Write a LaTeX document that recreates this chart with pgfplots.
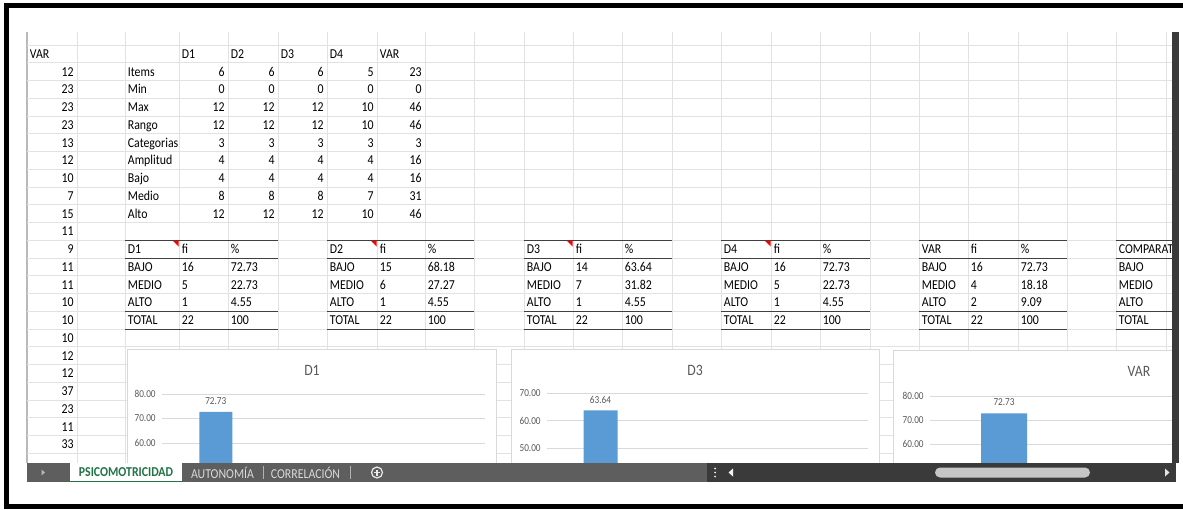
\documentclass[border=0pt]{standalone}
\usepackage{fontspec}
\setmainfont{Carlito}
\usepackage{graphicx}
\usepackage{pgfplots}
\pgfplotsset{compat=1.18}
\definecolor{gridc}{HTML}{E2E2E2}
\definecolor{bordc}{HTML}{D9D9D9}
\definecolor{cgrid}{HTML}{D9D9D9}
\definecolor{barc}{HTML}{5B9BD5}
\definecolor{txtc}{HTML}{595959}
\definecolor{tabg}{HTML}{5E5E5E}
\definecolor{tabd}{HTML}{3A3A3A}
\definecolor{xlgreen}{HTML}{217346}
\definecolor{tline}{HTML}{404040}
\newcommand\T[1]{\scalebox{0.87}[1]{#1}}
\newcommand\cf{\fontsize{6.8}{7}\selectfont}
\newcommand\tf{\fontsize{5.3}{6}\selectfont}
\newcommand\titf{\fontsize{7.9}{9}\selectfont}
\newcommand\cellL[3]{\node[anchor=base west,inner sep=0pt,font=\cf] at ({#1+2.5},{58.3+17.75*(#2)}) {\T{#3}};}
\newcommand\cellR[3]{\node[anchor=base east,inner sep=0pt,font=\cf] at ({#1-3},{58.3+17.75*(#2)}) {\T{#3}};}
\pgfplotsset{xlchart/.style={
  scale only axis, anchor=north west, ybar, bar shift=0pt,
  xmin=-0.5, xmax=2.5, xtick={0,1,2}, xticklabels={BAJO,MEDIO,ALTO},
  axis line style={draw=none}, major tick length=0pt,
  ymajorgrids, grid style={cgrid, line width=0.5pt},
  yticklabel={\T{\pgfmathprintnumber[fixed,fixed zerofill,precision=2,assume math mode=true]{\tick}}},
  ticklabel style={font=\tf, text=txtc},
  yticklabel style={inner sep=0pt, xshift=-3pt},
  nodes near coords={\T{\pgfmathprintnumber[fixed,fixed zerofill,precision=2,assume math mode=true]{\pgfplotspointmeta}}},
  nodes near coords style={font=\tf, text=txtc, inner sep=0pt, anchor=south, yshift=3.5pt},
}}
\begin{document}
\begin{tikzpicture}[x=0.5pt,y=-0.5pt]
\path[use as bounding box] (0,0) rectangle (1183,509);
\clip (0,0) rectangle (1183,509);
\fill[white] (0,0) rectangle (1183,509);
\coordinate (pD1) at (162,394);
\coordinate (pD3) at (547,393);
\coordinate (pVAR) at (930,396);
% sheet grid
\foreach \gx in {77,125,179,228,278,327,377,425,474,524,573,622,672,721,771,820,870,919,968,1018,1067,1116,1166}
  \draw[gridc, line width=0.5pt] (\gx,32) -- (\gx,463);
\draw[gray!55, line width=0.6pt] (27,32) -- (27,463);
\foreach \k in {0,...,23}
  \draw[gridc, line width=0.5pt] (27,{45.1+17.75*\k}) -- (1172,{45.1+17.75*\k});
% column A
\cellL{27}{0}{VAR}
\foreach \v [count=\r] in {12,23,23,23,13,12,10,7,15,11,9,11,11,10,10,10,12,12,37,23,11,33}
  {\cellR{77}{\r}{\v}}
% top block
\cellL{179}{0}{D1} \cellL{228}{0}{D2} \cellL{278}{0}{D3} \cellL{327}{0}{D4} \cellL{377}{0}{VAR}
\foreach \lab/\va/\vb/\vc/\vd/\ve [count=\r] in {Items/6/6/6/5/23, Min/0/0/0/0/0, Max/12/12/12/10/46, Rango/12/12/12/10/46, Categorias/3/3/3/3/3, Amplitud/4/4/4/4/16, Bajo/4/4/4/4/16, Medio/8/8/8/7/31, Alto/12/12/12/10/46}{
  \cellL{125}{\r}{\lab} \cellR{228}{\r}{\va} \cellR{278}{\r}{\vb} \cellR{327}{\r}{\vc} \cellR{377}{\r}{\vd} \cellR{425}{\r}{\ve}
}
% frequency tables
\foreach \xa/\xb/\xc/\xd/\nm/\fa/\pa/\fb/\pb/\fc/\pc/\tri in {
125/179/228/278/D1/16/72.73/5/22.73/1/4.55/1,
327/377/425/474/D2/15/68.18/6/27.27/1/4.55/1,
524/573/622/672/D3/14/63.64/7/31.82/1/4.55/1,
721/771/820/870/D4/16/72.73/5/22.73/1/4.55/1,
919/968/1018/1067/VAR/16/72.73/4/18.18/2/9.09/0}{
  \draw[tline, line width=0.6pt] (\xa,240.35) -- (\xd,240.35) (\xa,258.1) -- (\xd,258.1) (\xa,311.35) -- (\xd,311.35) (\xa,329.1) -- (\xd,329.1);
  \cellL{\xa}{11}{\nm} \cellL{\xb}{11}{fi} \cellL{\xc}{11}{\%}
  \cellL{\xa}{12}{BAJO} \cellL{\xb}{12}{\fa} \cellL{\xc}{12}{\pa}
  \cellL{\xa}{13}{MEDIO} \cellL{\xb}{13}{\fb} \cellL{\xc}{13}{\pb}
  \cellL{\xa}{14}{ALTO} \cellL{\xb}{14}{\fc} \cellL{\xc}{14}{\pc}
  \cellL{\xa}{15}{TOTAL} \cellL{\xb}{15}{22} \cellL{\xc}{15}{100}
  \ifnum\tri=1 \fill[red] ({\xb-6},240.8) -- ({\xb-0.5},240.8) -- ({\xb-0.5},246.5) -- cycle; \fi
}
\begin{scope}
\clip (1116,32) rectangle (1172,463);
\draw[tline, line width=0.6pt] (1116,240.35) -- (1172,240.35) (1116,258.1) -- (1172,258.1) (1116,311.35) -- (1172,311.35) (1116,329.1) -- (1172,329.1);
\cellL{1116}{11}{COMPARATIVO} \cellL{1116}{12}{BAJO} \cellL{1116}{13}{MEDIO} \cellL{1116}{14}{ALTO} \cellL{1116}{15}{TOTAL}
\end{scope}
% chart D1
\begin{scope}
\clip (127,349) rectangle (497.5,463);
\fill[white] (127,349) rectangle (497,480);
\draw[bordc, line width=0.6pt] (127.5,349.5) rectangle (496.5,480);
\node[font=\titf, text=txtc] at (312,370) {\T{D1}};
\begin{axis}[xlchart, at={(pD1)}, width=161.5pt, height=98pt, ymin=0, ymax=80, ytick={0,10,...,80}, bar width=16.5pt]
\addplot[fill=barc, draw=none] coordinates {(0,72.73) (1,22.73) (2,4.55)};
\end{axis}
\end{scope}
% chart D3
\begin{scope}
\clip (511,349) rectangle (880.5,463);
\fill[white] (511,349) rectangle (880,480);
\draw[bordc, line width=0.6pt] (511.5,349.5) rectangle (879.5,480);
\node[font=\titf, text=txtc] at (695,370) {\T{D3}};
\begin{axis}[xlchart, at={(pD3)}, width=160.5pt, height=96.25pt, ymin=0, ymax=70, ytick={0,10,...,70}, bar width=17pt]
\addplot[fill=barc, draw=none] coordinates {(0,63.64) (1,31.82) (2,4.55)};
\end{axis}
\end{scope}
% chart VAR
\begin{scope}
\clip (893,349) rectangle (1172,463);
\fill[white] (893,350) rectangle (1390,480);
\draw[bordc, line width=0.6pt] (893.5,350.5) rectangle (1389.5,480);
\node[font=\titf, text=txtc] at (1139,371) {\T{VAR}};
\begin{axis}[xlchart, at={(pVAR)}, width=222pt, height=96pt, ymin=0, ymax=80, ytick={0,10,...,80}, bar width=23pt]
\addplot[fill=barc, draw=none] coordinates {(0,72.73) (1,18.18) (2,9.09)};
\end{axis}
\end{scope}
% vertical scroll bar
\fill[tabd] (1172,32) rectangle (1179,463);
% sheet tab bar
\fill[tabg] (27,462.5) rectangle (707,482);
\fill[tabd] (707,462.5) rectangle (1176,482);
\fill[white] (70,462.5) rectangle (182,482);
\fill[xlgreen] (70,480.5) rectangle (182,482);
\node[font=\fontsize{6.8}{8}\selectfont\bfseries, text=xlgreen, inner sep=0pt] at (126,472.5) {\T{PSICOMOTRICIDAD}};
\node[font=\cf, text=gray!30, inner sep=0pt] at (222.5,472.5) {\T{AUTONOMÍA}};
\node[font=\cf, text=gray!30, inner sep=0pt] at (305.5,472.5) {\T{CORRELACIÓN}};
\draw[gray!60, line width=0.5pt] (263,466) -- (263,479) (350,466) -- (350,479);
\draw[gray!15, line width=0.6pt] (377,472.5) circle (5.5);
\draw[gray!15, line width=0.6pt] (374,472.5) -- (380,472.5) (377,469.5) -- (377,475.5);
\fill[gray!55] (41.5,469.5) -- (45,472.5) -- (41.5,475.5) -- cycle;
\foreach \dy in {468.5,472.5,476.5} \fill[gray!10] (715,\dy) circle (1);
\fill[gray!10] (733,468.5) -- (728.5,472.5) -- (733,476.5) -- cycle;
\fill[gray!45, rounded corners=2.5pt] (935,467.5) rectangle (1090,477.5);
\fill[gray!20] (1165,468.5) -- (1169.5,472.5) -- (1165,476.5) -- cycle;
% outer frame
\fill[black] (4,3) rectangle (1183,8);
\fill[black] (4,3) rectangle (8.5,509);
\fill[black] (4,504) rectangle (1183,509);
\end{tikzpicture}
\end{document}
